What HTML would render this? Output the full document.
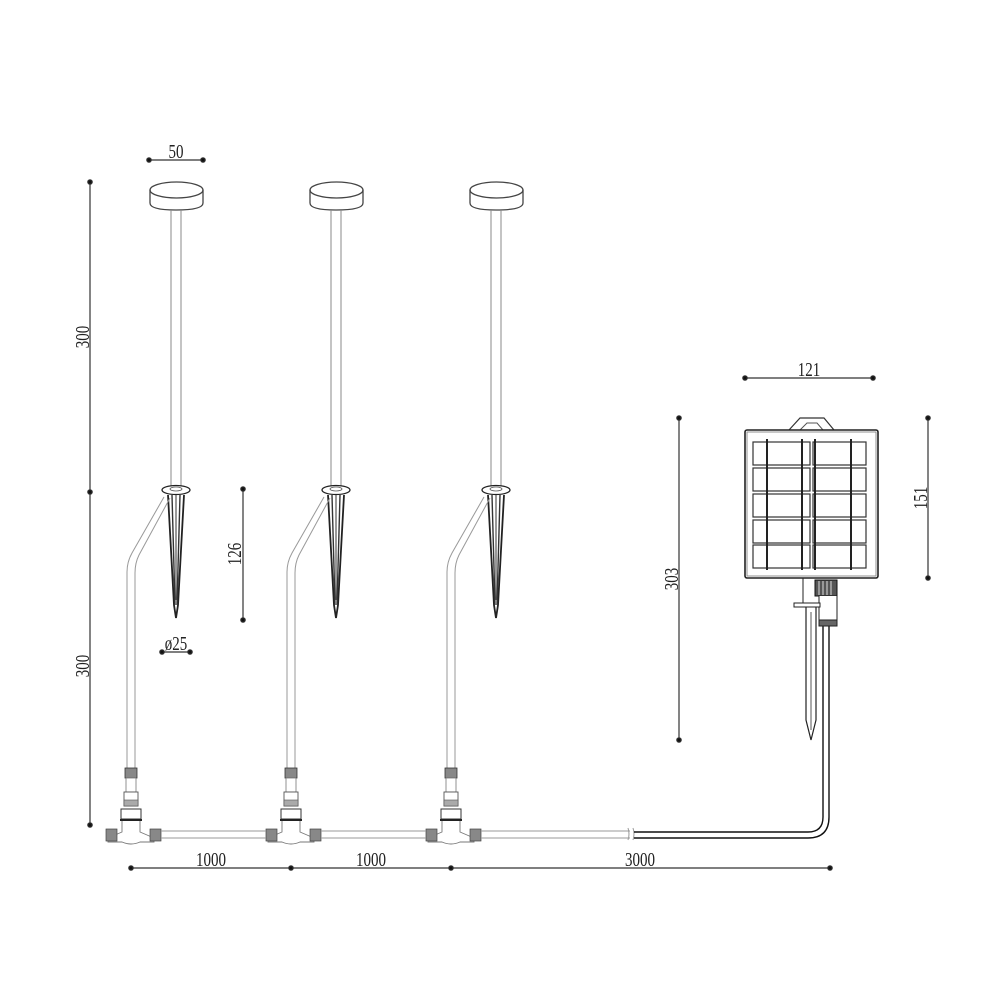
<!DOCTYPE html>
<html><head><meta charset="utf-8"><style>
html,body{margin:0;padding:0;background:#fff}
svg{display:block}
text{font-family:"Liberation Serif","DejaVu Serif",serif;font-size:20px;fill:#222}
</style></head><body>
<svg width="1000" height="1000" viewBox="0 0 1000 1000" xmlns="http://www.w3.org/2000/svg">
<defs>
<g id="lamp">
  <path d="M150,190 L150,203 Q150,210 176,210 Q203,210 203,203 L203,190" fill="none" stroke="#444" stroke-width="1.3"/>
  <ellipse cx="176.5" cy="190" rx="26.5" ry="8" fill="none" stroke="#444" stroke-width="1.3"/>
  <line x1="171" y1="210" x2="171" y2="487" stroke="#888" stroke-width="1"/>
  <line x1="181" y1="210" x2="181" y2="487" stroke="#888" stroke-width="1"/>
  <ellipse cx="176" cy="490" rx="14" ry="4.5" fill="#fff" stroke="#222" stroke-width="1.3"/>
  <ellipse cx="176" cy="489" rx="6" ry="2" fill="none" stroke="#555" stroke-width="0.8"/>
  <path d="M168,495 L174,605 L176,618 L178,605 L184,495" fill="none" stroke="#222" stroke-width="1.8"/>
  <path d="M172,495 L175,605 M180,495 L177,605" stroke="#333" stroke-width="1.4" fill="none"/>
  <line x1="176" y1="495" x2="176" y2="600" stroke="#555" stroke-width="1.2"/>
  <path d="M164,497 L132,553 Q127,562 127,572 L127,768" fill="none" stroke="#999" stroke-width="1"/>
  <path d="M170,498 L139,555 Q135,563 135,573 L135,768" fill="none" stroke="#999" stroke-width="1"/>
  <rect x="125" y="768" width="12" height="10" fill="#888" stroke="#333" stroke-width="0.8"/>
  <rect x="126" y="778" width="10" height="14" fill="#fff" stroke="#777" stroke-width="0.8"/>
  <rect x="124" y="792" width="14" height="14" fill="#fff" stroke="#555" stroke-width="0.9"/>
  <rect x="124" y="800" width="14" height="6" fill="#aaa" stroke="#555" stroke-width="0.6"/>
  <rect x="121" y="809" width="20" height="10" fill="#fff" stroke="#333" stroke-width="1"/>
  <line x1="120" y1="820" x2="142" y2="820" stroke="#222" stroke-width="2"/>
  <path d="M122,821 L122,832 L108,838 L108,842 L122,842 Q131,846 140,842 L154,842 L154,838 L140,832 L140,821" fill="#fff" stroke="#777" stroke-width="0.9"/>
  <rect x="106" y="829" width="11" height="12" fill="#888" stroke="#444" stroke-width="0.7"/>
  <rect x="150" y="829" width="11" height="12" fill="#888" stroke="#444" stroke-width="0.7"/>
</g>
</defs>
<use href="#lamp"/>
<use href="#lamp" transform="translate(160,0)"/>
<use href="#lamp" transform="translate(320,0)"/>
<g stroke="#999" stroke-width="1">
<line x1="161" y1="831" x2="266" y2="831"/><line x1="161" y1="838" x2="266" y2="838"/>
<line x1="321" y1="831" x2="426" y2="831"/><line x1="321" y1="838" x2="426" y2="838"/>
<line x1="481" y1="831" x2="630" y2="831"/><line x1="481" y1="838" x2="630" y2="838"/>
</g>
<path d="M628,828 q2,6 0,12 M633,828 q2,6 0,12" stroke="#999" fill="none"/>
<path d="M634,832 L808,832 Q823,832 823,817 L823,625" fill="none" stroke="#111" stroke-width="1.4"/>
<path d="M634,838 L808,838 Q829,838 829,817 L829,625" fill="none" stroke="#111" stroke-width="1.4"/>
<path d="M789,430 L800,418 L824,418 L834,430" fill="none" stroke="#333" stroke-width="1.2"/>
<path d="M800,430 L807,423 L817,423 L823,430" fill="none" stroke="#555" stroke-width="1"/>
<rect x="745" y="430" width="133" height="148" rx="2" fill="#fff" stroke="#222" stroke-width="1.6"/>
<rect x="747" y="432" width="129" height="144" fill="none" stroke="#777" stroke-width="0.8"/>
<g fill="none" stroke="#333" stroke-width="1.2">
<rect x="753" y="442" width="57" height="23"/><rect x="813" y="442" width="53" height="23"/>
<rect x="753" y="468" width="57" height="23"/><rect x="813" y="468" width="53" height="23"/>
<rect x="753" y="494" width="57" height="23"/><rect x="813" y="494" width="53" height="23"/>
<rect x="753" y="520" width="57" height="23"/><rect x="813" y="520" width="53" height="23"/>
<rect x="753" y="545" width="57" height="23"/><rect x="813" y="545" width="53" height="23"/>
</g>
<g stroke="#222" stroke-width="2">
<line x1="767" y1="439" x2="767" y2="570"/><line x1="802" y1="439" x2="802" y2="570"/>
<line x1="815" y1="439" x2="815" y2="570"/><line x1="851" y1="439" x2="851" y2="570"/>
</g>
<rect x="815" y="580" width="22" height="16" fill="#555" stroke="#111"/>
<g stroke="#fff" stroke-width="0.8"><line x1="819" y1="581" x2="819" y2="595"/><line x1="823" y1="581" x2="823" y2="595"/><line x1="827" y1="581" x2="827" y2="595"/><line x1="831" y1="581" x2="831" y2="595"/></g>
<path d="M819,596 L819,620 L837,620 L837,596" fill="#fff" stroke="#222"/>
<rect x="819" y="620" width="18" height="6" fill="#666" stroke="#222"/>
<line x1="803" y1="578" x2="803" y2="603" stroke="#222"/>
<rect x="794" y="603" width="26" height="4" fill="#fff" stroke="#222"/>
<path d="M806,607 L806,720 L811,740 L816,720 L816,607" fill="none" stroke="#222" stroke-width="1.2"/>
<line x1="811" y1="612" x2="811" y2="730" stroke="#555"/>
<g stroke="#333" stroke-width="1.2" fill="#111">
<line x1="90" y1="182" x2="90" y2="825"/>
<circle cx="90" cy="182" r="2.2"/><circle cx="90" cy="492" r="2.2"/><circle cx="90" cy="825" r="2.2"/>
<line x1="149" y1="160" x2="203" y2="160"/><circle cx="149" cy="160" r="2.2"/><circle cx="203" cy="160" r="2.2"/>
<line x1="243" y1="489" x2="243" y2="620"/><circle cx="243" cy="489" r="2.2"/><circle cx="243" cy="620" r="2.2"/>
<line x1="162" y1="652" x2="190" y2="652"/><circle cx="162" cy="652" r="2.2"/><circle cx="190" cy="652" r="2.2"/>
<line x1="745" y1="378" x2="873" y2="378"/><circle cx="745" cy="378" r="2.2"/><circle cx="873" cy="378" r="2.2"/>
<line x1="928" y1="418" x2="928" y2="578"/><circle cx="928" cy="418" r="2.2"/><circle cx="928" cy="578" r="2.2"/>
<line x1="679" y1="418" x2="679" y2="740"/><circle cx="679" cy="418" r="2.2"/><circle cx="679" cy="740" r="2.2"/>
<line x1="131" y1="868" x2="830" y2="868"/>
<circle cx="131" cy="868" r="2.2"/><circle cx="291" cy="868" r="2.2"/><circle cx="451" cy="868" r="2.2"/><circle cx="830" cy="868" r="2.2"/>
</g>
<g>
<text x="176" y="158" text-anchor="middle" transform="translate(176 0) scale(0.75 1) translate(-176 0)">50</text>
<text x="176" y="650" text-anchor="middle" transform="translate(176 0) scale(0.75 1) translate(-176 0)">ø25</text>
<text x="809" y="376" text-anchor="middle" transform="translate(809 0) scale(0.75 1) translate(-809 0)">121</text>
<text x="211" y="866" text-anchor="middle" transform="translate(211 0) scale(0.75 1) translate(-211 0)">1000</text>
<text x="371" y="866" text-anchor="middle" transform="translate(371 0) scale(0.75 1) translate(-371 0)">1000</text>
<text x="640" y="866" text-anchor="middle" transform="translate(640 0) scale(0.75 1) translate(-640 0)">3000</text>
<text transform="translate(89 337) rotate(-90) scale(0.75 1)" text-anchor="middle">300</text>
<text transform="translate(89 666) rotate(-90) scale(0.75 1)" text-anchor="middle">300</text>
<text transform="translate(241 554) rotate(-90) scale(0.75 1)" text-anchor="middle">126</text>
<text transform="translate(927 498) rotate(-90) scale(0.75 1)" text-anchor="middle">151</text>
<text transform="translate(678 579) rotate(-90) scale(0.75 1)" text-anchor="middle">303</text>
</g>
</svg>
</body></html>
